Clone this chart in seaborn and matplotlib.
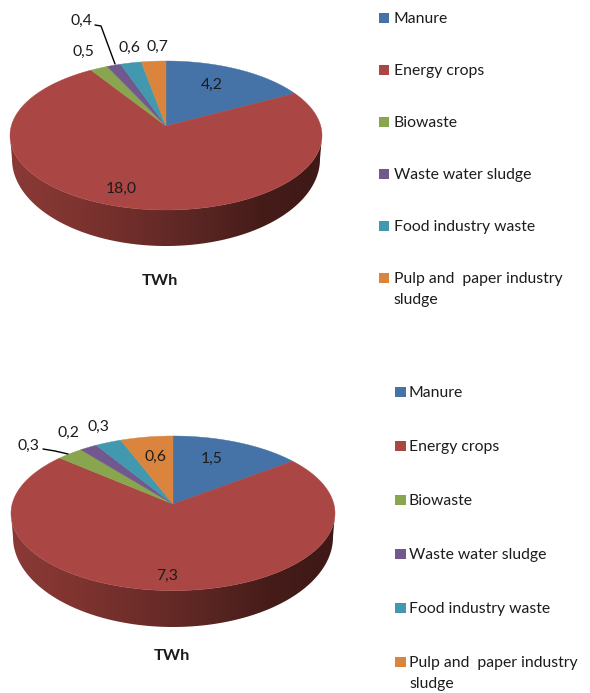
import numpy as np
import pandas as pd
import matplotlib
matplotlib.use("Agg")
import matplotlib.pyplot as plt
from matplotlib.patches import Polygon
import seaborn as sns

# Biogas potential by feedstock, in TWh
categories = ["Manure", "Energy crops", "Biowaste", "Waste water sludge",
              "Food industry waste", "Pulp and  paper industry\nsludge"]
upper_values = [4.2, 18.0, 0.5, 0.4, 0.6, 0.7]
lower_values = [1.5, 7.3, 0.3, 0.2, 0.3, 0.6]
unit_label = "TWh"

slice_colors = ["#4572A7", "#AA4643", "#89A54E", "#71588F", "#4198AF", "#DB843D"]
wall_colors = ["#8A3A36", "#7F3430", "#6E2D2A", "#5A2623", "#461C19", "#3E1917"]

sns.set_theme(style="white")
plt.rcParams["font.family"] = ["Lato", "DejaVu Sans"]

FONT_SIZE = 11.3
TEXT_COLOR = "#1c1c1c"

fig = plt.figure(figsize=(5.9, 6.93), dpi=100, facecolor="white")
ax = fig.add_axes([0, 0, 1, 1])
wall_cmap = sns.blend_palette(wall_colors, as_cmap=True)


def decimal_comma(value):
    return f"{value:.1f}".replace(".", ",")


def tilted_disc(turns, cx, cy, rx, ry, tilt):
    """Project clockwise angles on a circle to an ellipse seen in perspective."""
    u, v = np.sin(turns), np.cos(turns)
    scale = 1 + tilt * v
    px = u * np.sqrt(1 - tilt ** 2) / scale
    py = (v + tilt) / scale
    return cx + rx * px, cy - ry * py


def draw_pie(values, cx, cy, rx, ry, tilt, base_cy, base_rx, base_ry):
    # Side wall: lower rims of the top face and of the base, shaded left to right
    t = np.linspace(np.pi, 2 * np.pi, 200)
    top = np.column_stack([cx + rx * np.cos(t), cy - ry * np.sin(t)])
    base = np.column_stack([cx + base_rx * np.cos(t), base_cy - base_ry * np.sin(t)])
    outline = np.vstack([top, base[::-1]])
    image = ax.imshow(np.linspace(0, 1, 256)[None, :], cmap=wall_cmap, aspect="auto",
                      extent=(cx - rx, cx + rx, base_cy + base_ry, cy), zorder=1)
    image.set_clip_path(Polygon(outline, transform=ax.transData))

    # Top face, one wedge per value
    edges = np.cumsum([0] + list(values)) / np.sum(values) * 2 * np.pi
    apex_y = cy - ry * tilt
    for start, stop, color in zip(edges[:-1], edges[1:], slice_colors):
        arc = np.linspace(start, stop, max(int((stop - start) * 60), 3))
        x, y = tilted_disc(arc, cx, cy, rx, ry, tilt)
        points = np.column_stack([np.r_[cx, x], np.r_[apex_y, y]])
        ax.add_patch(Polygon(points, closed=True, facecolor=color, edgecolor=color,
                             linewidth=0.3, zorder=2))


def draw_labels(values, positions):
    for value, (x, y) in zip(values, positions):
        ax.text(x, y, decimal_comma(value), ha="center", va="center",
                fontsize=FONT_SIZE, color=TEXT_COLOR, zorder=4)


def draw_legend(swatch_x, text_x, rows):
    table = pd.DataFrame({"x": swatch_x, "y": rows, "category": categories})
    sns.scatterplot(data=table, x="x", y="y", hue="category", palette=slice_colors,
                    marker="s", s=52, linewidth=0, legend=False, ax=ax, zorder=3)
    for name, y in zip(categories, rows):
        first_line = name.split("\n")[0]
        ax.text(text_x, y + 1, first_line, ha="left", va="center",
                fontsize=FONT_SIZE, color=TEXT_COLOR)
        if "\n" in name:
            ax.text(text_x, y + 22, name.split("\n")[1], ha="left", va="center",
                    fontsize=FONT_SIZE, color=TEXT_COLOR)


# Upper chart
draw_pie(upper_values, 166, 135.5, 156, 74.5, 0.1275, 159, 154, 87)
draw_labels(upper_values, [(212, 85), (121, 189), (83, 52), (81, 21), (129, 48), (157, 47)])
ax.plot([95, 101, 115], [25, 26, 64], color="black", linewidth=1, zorder=3)
ax.text(160, 281, unit_label, ha="center", va="center", fontsize=FONT_SIZE + 0.5,
        fontweight="bold", color=TEXT_COLOR)
draw_legend(384, 393.5, [18, 70, 122, 174, 226, 278])

# Lower chart
draw_pie(lower_values, 173, 513.3, 162, 77.3, 0.12, 537, 160, 90)
draw_labels(lower_values, [(212, 459), (167, 576), (28, 446), (68, 433), (98, 427), (155, 457)])
ax.plot([43, 55, 68], [449, 451, 454], color="black", linewidth=1, zorder=3)
ax.text(172, 656, unit_label, ha="center", va="center", fontsize=FONT_SIZE + 0.5,
        fontweight="bold", color=TEXT_COLOR)
draw_legend(400.5, 409, [392, 446, 500, 554, 608, 662])

ax.set_xlim(0, 590)
ax.set_ylim(693, 0)
ax.set_axis_off()

fig.savefig("out.png", dpi=100)
